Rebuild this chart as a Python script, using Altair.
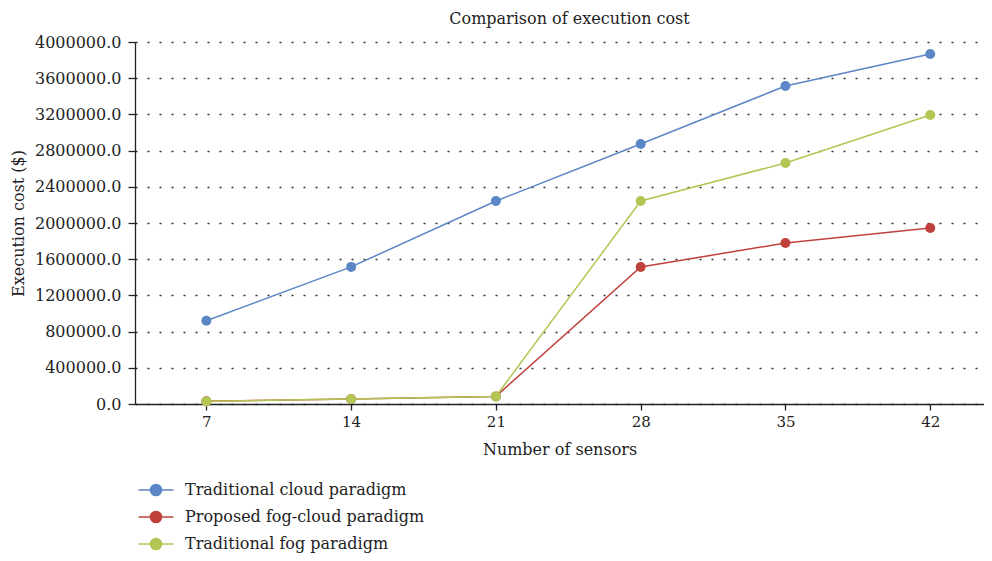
import altair as alt
import pandas as pd

sensors = [7, 14, 21, 28, 35, 42]
series_names = ["Traditional cloud paradigm", "Proposed fog-cloud paradigm", "Traditional fog paradigm"]
cloud = [920000, 1515000, 2243000, 2873000, 3514000, 3867000]
fog_cloud = [30000, 55000, 84000, 1514000, 1779000, 1945000]
fog = [29000, 55000, 84000, 2243000, 2663000, 3193000]
colors = ["#5B87C6", "#C0413C", "#B3C654"]

rows = []
for name, vals in zip(series_names, [cloud, fog_cloud, fog]):
    for s, v in zip(sensors, vals):
        rows.append({"sensors": s, "cost": v, "series": name})
df = pd.DataFrame(rows)

FONT = "DejaVu Serif"

color = alt.Color(
    "series:N",
    scale=alt.Scale(domain=series_names, range=colors),
    sort=series_names,
    legend=alt.Legend(
        title=None,
        orient="none",
        legendX=10,
        legendY=437,
        symbolType="M-1.75,0L1.75,0M0.56,0A0.56,0.56 0 1,1 -0.56,0A0.56,0.56 0 1,1 0.56,0Z",
        symbolSize=400,
        symbolStrokeWidth=1.5,
        labelFont=FONT,
        labelFontSize=16,
        labelColor="#222",
        labelLimit=500,
        rowPadding=7,
        labelOffset=18,
    ),
)

x = alt.X(
    "sensors:Q",
    scale=alt.Scale(domain=[3.55, 44.6], nice=False, zero=False),
    axis=alt.Axis(values=sensors, title="Number of sensors", grid=False, format="d",
                  tickSize=6, labelPadding=4, titlePadding=12),
)
y = alt.Y(
    "cost:Q",
    scale=alt.Scale(domain=[0, 4000000], nice=False),
    axis=alt.Axis(values=list(range(0, 4000001, 400000)), format=".1f",
                  title="Execution cost ($)", grid=True, tickSize=7, labelPadding=7,
                  titlePadding=8, labelFontSize=16),
)

lines = alt.Chart(df).mark_line(strokeWidth=1.5).encode(x=x, y=y, color=color, detail="series:N")
points = alt.Chart(df).mark_circle(size=100, opacity=1).encode(x=x, y=y, color=color)

chart = (
    alt.layer(lines, points)
    .properties(
        width=849,
        height=362,
        title=alt.TitleParams("Comparison of execution cost", font=FONT, fontSize=16,
                              fontWeight="normal", color="#222", offset=7, anchor="middle", dx=10),
        autosize=alt.AutoSizeParams(type="none"),
        padding={"left": 127, "top": 34, "right": 0, "bottom": 149},
    )
    .configure_view(stroke=None)
    .configure_axis(
        labelFont=FONT, labelFontSize=15, labelColor="#222",
        titleFont=FONT, titleFontSize=16, titleFontWeight="normal", titleColor="#222",
        domainColor="#222", domainWidth=1.3, tickColor="#222", tickWidth=1.3,
        gridColor="#333", gridDash=[2, 10], gridWidth=1.6, gridOpacity=1,
    )
)

chart.save("out.html", embed_options={"renderer": "svg", "actions": False})
